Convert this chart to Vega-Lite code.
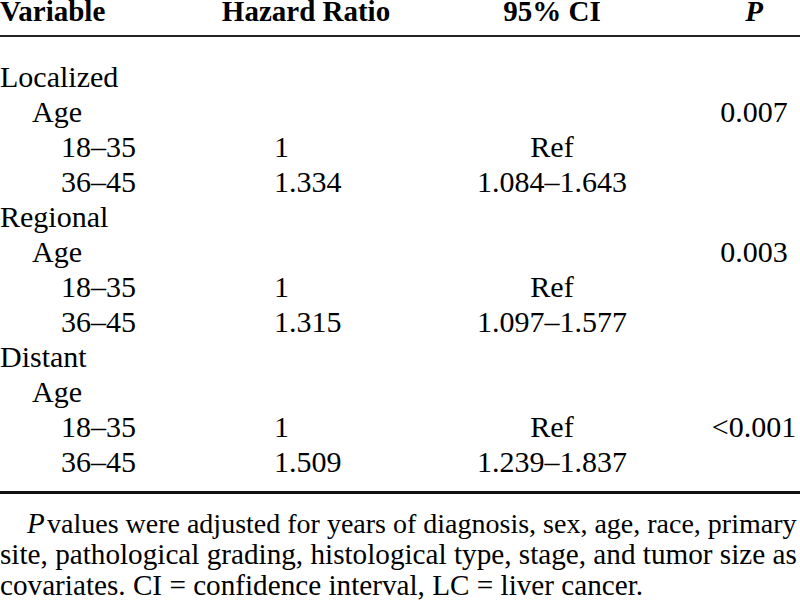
{
  "$schema": "https://vega.github.io/schema/vega-lite/v6.json",
  "width": 800,
  "height": 600,
  "autosize": {"type": "none"},
  "padding": 0,
  "background": "white",
  "config": {"view": {"stroke": null}, "text": {"font": "Liberation Serif", "color": "black", "baseline": "alphabetic"}},
  "datasets": {
    "rules": [
      {"row": 0.5, "kind": "header"},
      {"row": 12.5, "kind": "bottom"}
    ],
    "header": [
      {"row": 0, "col": 0, "text": "Variable", "align": "left"},
      {"row": 0, "col": 4, "text": "Hazard Ratio", "align": "center"},
      {"row": 0, "col": 5, "text": "95% CI", "align": "center"}
    ],
    "headerP": [
      {"row": 0, "col": 6, "text": "P"}
    ],
    "cells": [
      {"row": 1, "col": 0, "text": "Localized", "align": "left"},
      {"row": 2, "col": 1, "text": "Age", "align": "left"},
      {"row": 2, "col": 6, "text": "0.007", "align": "center"},
      {"row": 3, "col": 2, "text": "18–35", "align": "left"},
      {"row": 3, "col": 3, "text": "1", "align": "left"},
      {"row": 3, "col": 5, "text": "Ref", "align": "center"},
      {"row": 4, "col": 2, "text": "36–45", "align": "left"},
      {"row": 4, "col": 3, "text": "1.334", "align": "left"},
      {"row": 4, "col": 5, "text": "1.084–1.643", "align": "center"},
      {"row": 5, "col": 0, "text": "Regional", "align": "left"},
      {"row": 6, "col": 1, "text": "Age", "align": "left"},
      {"row": 6, "col": 6, "text": "0.003", "align": "center"},
      {"row": 7, "col": 2, "text": "18–35", "align": "left"},
      {"row": 7, "col": 3, "text": "1", "align": "left"},
      {"row": 7, "col": 5, "text": "Ref", "align": "center"},
      {"row": 8, "col": 2, "text": "36–45", "align": "left"},
      {"row": 8, "col": 3, "text": "1.315", "align": "left"},
      {"row": 8, "col": 5, "text": "1.097–1.577", "align": "center"},
      {"row": 9, "col": 0, "text": "Distant", "align": "left"},
      {"row": 10, "col": 1, "text": "Age", "align": "left"},
      {"row": 11, "col": 2, "text": "18–35", "align": "left"},
      {"row": 11, "col": 3, "text": "1", "align": "left"},
      {"row": 11, "col": 5, "text": "Ref", "align": "center"},
      {"row": 11, "col": 6, "text": "<0.001", "align": "center"},
      {"row": 12, "col": 2, "text": "36–45", "align": "left"},
      {"row": 12, "col": 3, "text": "1.509", "align": "left"},
      {"row": 12, "col": 5, "text": "1.239–1.837", "align": "center"}
    ],
    "noteP": [
      {"row": 13, "col": 8, "text": "P"}
    ],
    "note1": [
      {"row": 13, "col": 9, "text": "values were adjusted for years of diagnosis, sex, age, race, primary"}
    ],
    "notes": [
      {"row": 14, "col": 0, "text": "site, pathological grading, histological type, stage, and tumor size as"},
      {"row": 15, "col": 0, "text": "covariates. CI = confidence interval, LC = liver cancer."}
    ]
  },
  "encoding": {
    "y": {
      "field": "row",
      "type": "quantitative",
      "axis": null,
      "scale": {"domain": [0, 0.5, 1, 12, 12.5, 13, 15], "range": [21, 36, 87, 472, 492.5, 533, 595], "zero": false, "nice": false}
    }
  },
  "layer": [
    {
      "data": {"name": "rules"},
      "transform": [{"filter": "datum.kind === 'header'"}],
      "mark": {"type": "rule", "color": "#222222", "strokeWidth": 2}
    },
    {
      "data": {"name": "rules"},
      "transform": [{"filter": "datum.kind === 'bottom'"}],
      "mark": {"type": "rule", "color": "#111111", "strokeWidth": 3}
    },
    {
      "data": {"name": "header"},
      "transform": [{"filter": "datum.align === 'left'"}],
      "mark": {"type": "text", "align": "left", "fontSize": 29, "fontWeight": "bold"},
      "encoding": {
        "x": {"field": "col", "type": "quantitative", "axis": null, "scale": {"domain": [0, 1, 2, 3, 4, 5, 6, 7, 8, 9], "range": [0, 32, 61, 274, 306, 552, 754, 800, 27, 47], "zero": false, "nice": false}},
        "text": {"field": "text"}
      }
    },
    {
      "data": {"name": "header"},
      "transform": [{"filter": "datum.align === 'center'"}],
      "mark": {"type": "text", "align": "center", "fontSize": 29, "fontWeight": "bold"},
      "encoding": {"x": {"field": "col", "type": "quantitative"}, "text": {"field": "text"}}
    },
    {
      "data": {"name": "headerP"},
      "mark": {"type": "text", "align": "center", "fontSize": 29, "fontWeight": "bold", "fontStyle": "italic"},
      "encoding": {"x": {"field": "col", "type": "quantitative"}, "text": {"field": "text"}}
    },
    {
      "data": {"name": "cells"},
      "transform": [{"filter": "datum.align === 'left'"}],
      "mark": {"type": "text", "align": "left", "fontSize": 30},
      "encoding": {"x": {"field": "col", "type": "quantitative"}, "text": {"field": "text"}}
    },
    {
      "data": {"name": "cells"},
      "transform": [{"filter": "datum.align === 'center'"}],
      "mark": {"type": "text", "align": "center", "fontSize": 30},
      "encoding": {"x": {"field": "col", "type": "quantitative"}, "text": {"field": "text"}}
    },
    {
      "data": {"name": "noteP"},
      "mark": {"type": "text", "align": "left", "fontSize": 29, "fontStyle": "italic"},
      "encoding": {"x": {"field": "col", "type": "quantitative"}, "text": {"field": "text"}}
    },
    {
      "data": {"name": "note1"},
      "mark": {"type": "text", "align": "left", "fontSize": 28},
      "encoding": {"x": {"field": "col", "type": "quantitative"}, "text": {"field": "text"}}
    },
    {
      "data": {"name": "notes"},
      "mark": {"type": "text", "align": "left", "fontSize": 29.2},
      "encoding": {"x": {"field": "col", "type": "quantitative"}, "text": {"field": "text"}}
    }
  ]
}
